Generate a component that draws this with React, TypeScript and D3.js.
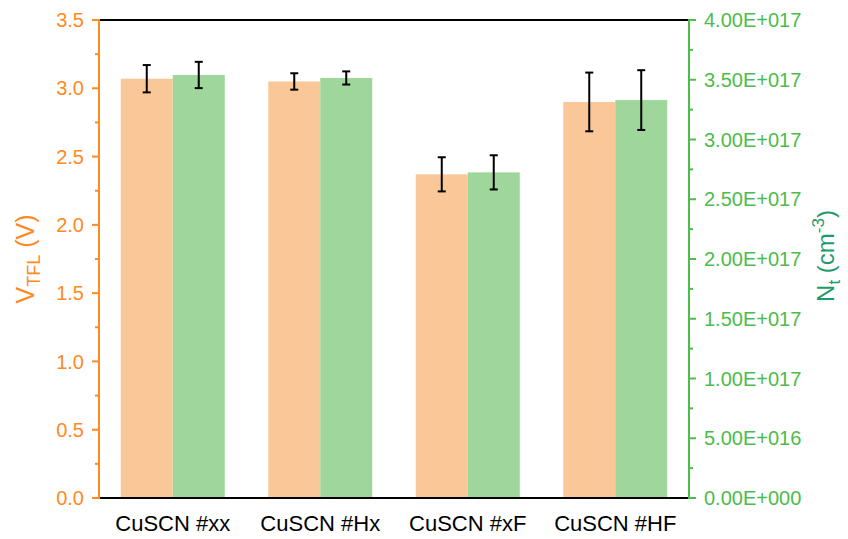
import React from "react";
import * as d3 from "d3";

const categories = ["CuSCN #xx", "CuSCN #Hx", "CuSCN #xF", "CuSCN #HF"];
const vtfl = [3.07, 3.05, 2.37, 2.9];
const vtflErr = [0.1, 0.06, 0.125, 0.215];
const nt = [3.54e17, 3.515e17, 2.725e17, 3.33e17];
const ntErr = [0.11e17, 0.055e17, 0.143e17, 0.25e17];
const leftTicks = [0, 0.5, 1.0, 1.5, 2.0, 2.5, 3.0, 3.5];
const rightTicks = [0, 0.5e17, 1e17, 1.5e17, 2e17, 2.5e17, 3e17, 3.5e17, 4e17];

const W = 848, H = 539;
const L = 99, R = 689, T = 20, B = 498;
const ORANGE = "#FF8A1F";
const GREEN = "#4CBC4C";
const FONT = "Liberation Sans, Arial, sans-serif";

function fmtE(v: number) {
  if (v === 0) return "0.00E+000";
  const e = Math.floor(Math.log10(v) + 1e-9);
  const m = v / Math.pow(10, e);
  return m.toFixed(2) + "E+" + String(e).padStart(3, "0");
}

export default function App() {
  const x = d3.scaleBand<string>().domain(categories).range([L, R]).paddingInner(0.295).paddingOuter(0.1475);
  const yL = d3.scaleLinear().domain([0, 3.5]).range([B, T]);
  const yR = d3.scaleLinear().domain([0, 4e17]).range([B, T]);
  const bw = x.bandwidth() / 2;
  const leftMinor = d3.range(0.25, 3.5, 0.5);
  const rightMinor = d3.range(0.25e17, 4e17, 0.5e17);
  const cap = 4;
  return (
    <svg width={W} height={H} style={{ position: "absolute", left: 0, top: 0 }}>
      <rect width={W} height={H} fill="#fff" />
      {categories.map((c, i) => {
        const x0 = x(c)!;
        const cxO = x0 + bw / 2;
        const cxG = x0 + bw * 1.5;
        return (
          <g key={c}>
            <rect x={x0} y={yL(vtfl[i])} width={bw} height={B - yL(vtfl[i])} fill="#FAC898" />
            <rect x={x0 + bw} y={yR(nt[i])} width={bw} height={B - yR(nt[i])} fill="#9ED69B" />
            <g stroke="#000" strokeWidth={2}>
              <line x1={cxO} x2={cxO} y1={yL(vtfl[i] + vtflErr[i])} y2={yL(vtfl[i] - vtflErr[i])} />
              <line x1={cxO - cap} x2={cxO + cap} y1={yL(vtfl[i] + vtflErr[i])} y2={yL(vtfl[i] + vtflErr[i])} />
              <line x1={cxO - cap} x2={cxO + cap} y1={yL(vtfl[i] - vtflErr[i])} y2={yL(vtfl[i] - vtflErr[i])} />
              <line x1={cxG} x2={cxG} y1={yR(nt[i] + ntErr[i])} y2={yR(nt[i] - ntErr[i])} />
              <line x1={cxG - cap} x2={cxG + cap} y1={yR(nt[i] + ntErr[i])} y2={yR(nt[i] + ntErr[i])} />
              <line x1={cxG - cap} x2={cxG + cap} y1={yR(nt[i] - ntErr[i])} y2={yR(nt[i] - ntErr[i])} />
            </g>
            <text x={x0 + bw} y={531} textAnchor="middle" fontFamily={FONT} fontSize={22} fill="#000">{c}</text>
          </g>
        );
      })}
      <line x1={L} x2={R} y1={T} y2={T} stroke="#000" strokeWidth={2} />
      <line x1={L} x2={R} y1={B} y2={B} stroke="#000" strokeWidth={2} />
      {/* left axis */}
      <line x1={L} x2={L} y1={T - 1} y2={B + 1} stroke={ORANGE} strokeWidth={2} />
      {leftTicks.map((t) => (
        <g key={t}>
          <line x1={L - 7} x2={L} y1={yL(t)} y2={yL(t)} stroke={ORANGE} strokeWidth={2} />
          <text x={L - 15} y={yL(t)} dy="0.36em" textAnchor="end" fontFamily={FONT} fontSize={20} fill={ORANGE}>{t.toFixed(1)}</text>
        </g>
      ))}
      {leftMinor.map((t) => (
        <line key={t} x1={L - 4} x2={L} y1={yL(t)} y2={yL(t)} stroke={ORANGE} strokeWidth={2} />
      ))}
      {/* right axis */}
      <line x1={R} x2={R} y1={T - 1} y2={B + 1} stroke={GREEN} strokeWidth={2} />
      {rightTicks.map((t) => (
        <g key={t}>
          <line x1={R} x2={R + 7} y1={yR(t)} y2={yR(t)} stroke={GREEN} strokeWidth={2} />
          <text x={R + 15} y={yR(t)} dy="0.36em" textAnchor="start" fontFamily={FONT} fontSize={20} fill={GREEN}>{fmtE(t)}</text>
        </g>
      ))}
      {rightMinor.map((t) => (
        <line key={t} x1={R} x2={R + 4} y1={yR(t)} y2={yR(t)} stroke={GREEN} strokeWidth={2} />
      ))}
      {/* titles */}
      <text transform="translate(34,259) rotate(-90)" textAnchor="middle" fontFamily={FONT} fontSize={25} fill={ORANGE}>
        V<tspan fontSize={18} dy={6}>TFL</tspan><tspan dy={-6}> (V)</tspan>
      </text>
      <text transform="translate(834,256) rotate(-90)" textAnchor="middle" fontFamily={FONT} fontSize={24} fill="#1F9A6A">
        N<tspan fontSize={17} dy={6}>t</tspan><tspan dy={-6}> (cm</tspan><tspan fontSize={17} dy={-10}>-3</tspan><tspan dy={10}>)</tspan>
      </text>
    </svg>
  );
}
